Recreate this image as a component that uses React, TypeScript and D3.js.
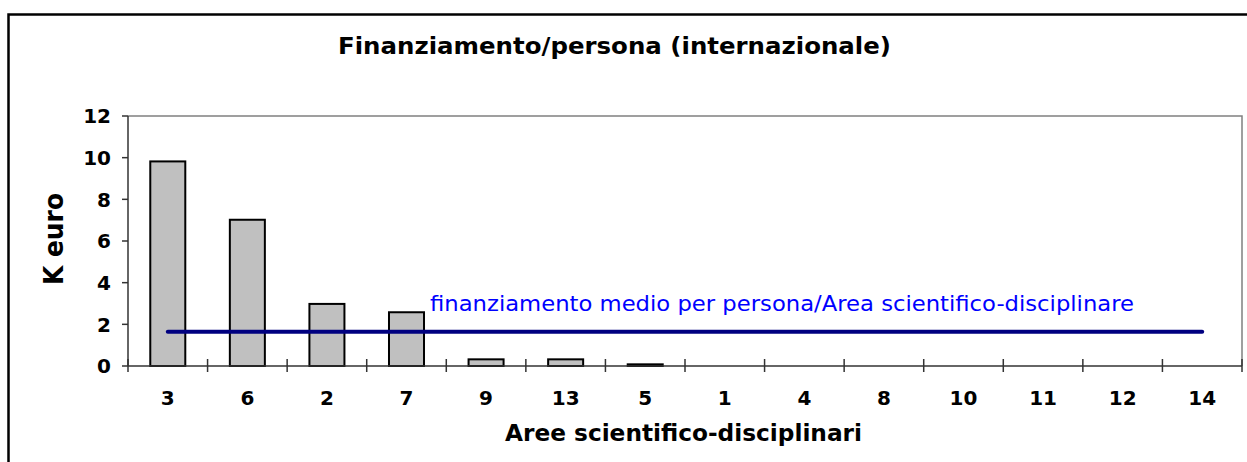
import React from "react";
import * as d3 from "d3";

const categories = ["3", "6", "2", "7", "9", "13", "5", "1", "4", "8", "10", "11", "12", "14"];
const values = [9.82, 7.02, 2.98, 2.58, 0.32, 0.32, 0.08, 0, 0, 0, 0, 0, 0, 0];
const meanValue = 1.65;
const yTicks = [0, 2, 4, 6, 8, 10, 12];

const title = "Finanziamento/persona (internazionale)";
const xTitle = "Aree scientifico-disciplinari";
const yTitle = "K euro";
const meanLabel = "finanziamento medio per persona/Area scientifico-disciplinare";

const W = 1247;
const H = 462;
const margin = { left: 128, right: 5, top: 116, bottom: 96 };
const font = "'DejaVu Sans', Verdana, sans-serif";

export default function App() {
  const x = d3
    .scaleBand()
    .domain(categories)
    .range([margin.left, W - margin.right])
    .paddingInner(0.56)
    .paddingOuter(0.28);

  const y = d3
    .scaleLinear()
    .domain([0, 12])
    .range([H - margin.bottom, margin.top]);

  const step = x.step();
  const x0 = margin.left;
  const x1 = W - margin.right;
  const y0 = y(0);
  const yTop = y(12);

  // category boundaries for the x ticks
  const bounds = d3.range(categories.length + 1).map((i) => x0 + i * step);

  const meanLine = d3
    .line<string>()
    .x((c) => (x(c) as number) + x.bandwidth() / 2)
    .y(() => y(meanValue));

  return (
    <svg
      width={W}
      height={H}
      style={{ position: "fixed", left: 0, top: 0, background: "#fff" }}
      fontFamily={font}
    >
      {/* outer frame */}
      <path d={`M8.5,${H} V14.5 H${W}`} fill="none" stroke="#000" strokeWidth={2.5} />

      <text
        x={614.5}
        y={54}
        textAnchor="middle"
        fontSize={23.5}
        fontWeight="bold"
        textLength={553}
        lengthAdjust="spacingAndGlyphs"
      >
        {title}
      </text>

      {/* plot area border */}
      <path d={`M${x0},${yTop} H${x1} V${y0}`} fill="none" stroke="#808080" strokeWidth={1.5} />

      {values.map((v, i) =>
        v > 0 ? (
          <rect
            key={categories[i]}
            x={x(categories[i])}
            y={y(v)}
            width={x.bandwidth()}
            height={y0 - y(v)}
            fill="#C0C0C0"
            stroke="#000"
            strokeWidth={2}
          />
        ) : null
      )}

      {/* y axis */}
      <line x1={x0} x2={x0} y1={yTop} y2={y0} stroke="#333" strokeWidth={1.5} />
      {yTicks.map((t) => (
        <g key={t}>
          <line x1={x0 - 6} x2={x0} y1={y(t)} y2={y(t)} stroke="#333" strokeWidth={1.5} />
          <text
            x={111}
            y={y(t)}
            dy="0.36em"
            textAnchor="end"
            fontSize={20}
            fontWeight="bold"
          >
            {t}
          </text>
        </g>
      ))}

      {/* x axis */}
      <line x1={x0} x2={x1} y1={y0} y2={y0} stroke="#333" strokeWidth={1.5} />
      {bounds.map((b, i) => (
        <line key={i} x1={b} x2={b} y1={y0 - 7} y2={y0 + 6} stroke="#333" strokeWidth={1.5} />
      ))}
      {categories.map((c) => (
        <text
          key={c}
          x={(x(c) as number) + x.bandwidth() / 2}
          y={405}
          textAnchor="middle"
          fontSize={20}
          fontWeight="bold"
        >
          {c}
        </text>
      ))}

      <path
        d={meanLine(categories) || ""}
        fill="none"
        stroke="#000080"
        strokeWidth={4}
        strokeLinecap="round"
      />
      <text
        x={430}
        y={311}
        fontSize={22}
        fill="#0000FF"
        textLength={704}
        lengthAdjust="spacingAndGlyphs"
      >
        {meanLabel}
      </text>

      <text
        x={683.5}
        y={441}
        textAnchor="middle"
        fontSize={22.5}
        fontWeight="bold"
        textLength={357}
        lengthAdjust="spacingAndGlyphs"
      >
        {xTitle}
      </text>
      <text
        transform={`translate(63,${(yTop + y0) / 2 - 2}) rotate(-90)`}
        textAnchor="middle"
        fontSize={26}
        fontWeight="bold"
        textLength={92}
        lengthAdjust="spacingAndGlyphs"
      >
        {yTitle}
      </text>
    </svg>
  );
}
